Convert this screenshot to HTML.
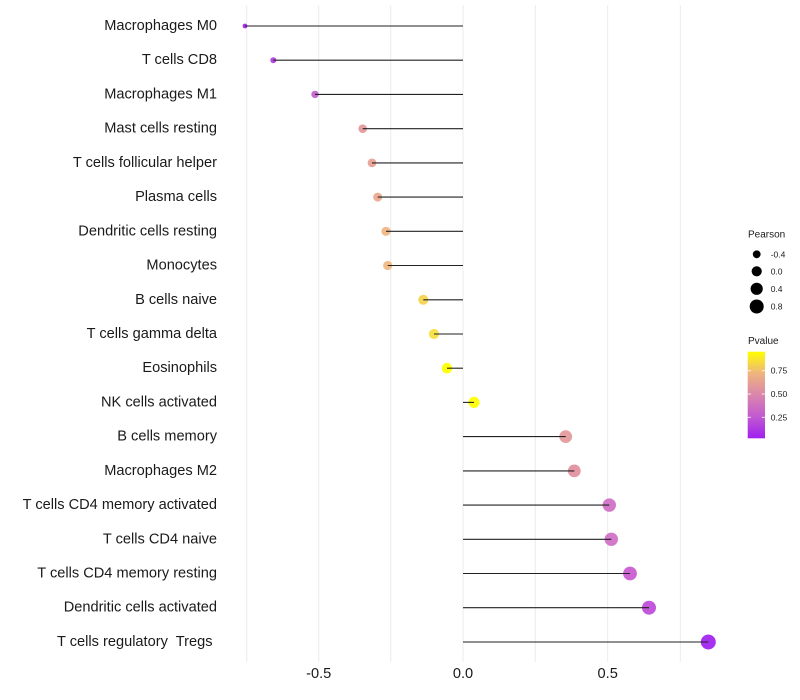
<!DOCTYPE html>
<html><head><meta charset="utf-8"><style>
html,body{margin:0;padding:0;background:#fff;}
svg{display:block;font-family:"Liberation Sans",Arial,sans-serif;}
</style></head><body>
<svg width="800" height="700" viewBox="0 0 800 700" xmlns="http://www.w3.org/2000/svg">
<rect width="800" height="700" fill="#fff"/>
<g stroke="#ebebeb" stroke-width="1">
<line x1="246.7" y1="5" x2="246.7" y2="662"/>
<line x1="318.7" y1="5" x2="318.7" y2="662"/>
<line x1="390.7" y1="5" x2="390.7" y2="662"/>
<line x1="463" y1="5" x2="463" y2="662"/>
<line x1="535.3" y1="5" x2="535.3" y2="662"/>
<line x1="607.7" y1="5" x2="607.7" y2="662"/>
<line x1="680.3" y1="5" x2="680.3" y2="662"/>
</g>
<g opacity="0.92">
<circle cx="245" cy="26" r="2.4" fill="#a020f0"/>
<circle cx="273.3" cy="60.2" r="3" fill="#b03ce0"/>
<circle cx="315" cy="94.4" r="3.7" fill="#c460d0"/>
<circle cx="362.7" cy="128.7" r="4.3" fill="#e39a9a"/>
<circle cx="372" cy="162.9" r="4.4" fill="#e8a094"/>
<circle cx="377.7" cy="197.1" r="4.5" fill="#eba88e"/>
<circle cx="386" cy="231.3" r="4.6" fill="#efb684"/>
<circle cx="387.7" cy="265.5" r="4.6" fill="#f0b882"/>
<circle cx="423.3" cy="299.8" r="5" fill="#f5d34a"/>
<circle cx="434" cy="334" r="5.1" fill="#f7e040"/>
<circle cx="447" cy="368.2" r="5.3" fill="#ffff00"/>
<circle cx="474" cy="402.4" r="5.6" fill="#ffff00"/>
<circle cx="565.7" cy="436.6" r="6.4" fill="#e39a9a"/>
<circle cx="574.3" cy="470.9" r="6.4" fill="#e0909e"/>
<circle cx="609.3" cy="505.1" r="6.7" fill="#d06ec6"/>
<circle cx="611.3" cy="539.3" r="6.7" fill="#d070c6"/>
<circle cx="630" cy="573.5" r="6.9" fill="#c85ad0"/>
<circle cx="649" cy="607.7" r="7" fill="#bd4cd8"/>
<circle cx="708.3" cy="642" r="7.5" fill="#a020f0"/>
</g>
<g stroke="#222" stroke-width="1.1">
<line x1="463" y1="26" x2="245" y2="26"/>
<line x1="463" y1="60.2" x2="273.3" y2="60.2"/>
<line x1="463" y1="94.4" x2="315" y2="94.4"/>
<line x1="463" y1="128.7" x2="362.7" y2="128.7"/>
<line x1="463" y1="162.9" x2="372" y2="162.9"/>
<line x1="463" y1="197.1" x2="377.7" y2="197.1"/>
<line x1="463" y1="231.3" x2="386" y2="231.3"/>
<line x1="463" y1="265.5" x2="387.7" y2="265.5"/>
<line x1="463" y1="299.8" x2="423.3" y2="299.8"/>
<line x1="463" y1="334" x2="434" y2="334"/>
<line x1="463" y1="368.2" x2="447" y2="368.2"/>
<line x1="463" y1="402.4" x2="474" y2="402.4"/>
<line x1="463" y1="436.6" x2="565.7" y2="436.6"/>
<line x1="463" y1="470.9" x2="574.3" y2="470.9"/>
<line x1="463" y1="505.1" x2="609.3" y2="505.1"/>
<line x1="463" y1="539.3" x2="611.3" y2="539.3"/>
<line x1="463" y1="573.5" x2="630" y2="573.5"/>
<line x1="463" y1="607.7" x2="649" y2="607.7"/>
<line x1="463" y1="642" x2="708.3" y2="642"/>
</g>
<g font-size="14.6" fill="#1a1a1a" text-anchor="end" dominant-baseline="central">
<text x="217" y="26">Macrophages M0</text>
<text x="217" y="60.2">T cells CD8</text>
<text x="217" y="94.4">Macrophages M1</text>
<text x="217" y="128.7">Mast cells resting</text>
<text x="217" y="162.9">T cells follicular helper</text>
<text x="217" y="197.1">Plasma cells</text>
<text x="217" y="231.3">Dendritic cells resting</text>
<text x="217" y="265.5">Monocytes</text>
<text x="217" y="299.8">B cells naive</text>
<text x="217" y="334">T cells gamma delta</text>
<text x="217" y="368.2">Eosinophils</text>
<text x="217" y="402.4">NK cells activated</text>
<text x="217" y="436.6">B cells memory</text>
<text x="217" y="470.9">Macrophages M2</text>
<text x="217" y="505.1">T cells CD4 memory activated</text>
<text x="217" y="539.3">T cells CD4 naive</text>
<text x="217" y="573.5">T cells CD4 memory resting</text>
<text x="217" y="607.7">Dendritic cells activated</text>
<text x="212.5" y="642" style="white-space:pre" xml:space="preserve">T cells regulatory  Tregs</text>
</g>
<g font-size="14.6" fill="#1a1a1a" text-anchor="middle" dominant-baseline="central">
<text x="318.7" y="674">-0.5</text>
<text x="463" y="674">0.0</text>
<text x="607.7" y="674">0.5</text>
</g>
<text x="748" y="235" font-size="10" fill="#1a1a1a" dominant-baseline="central">Pearson</text>
<circle cx="756.7" cy="254.3" r="3.9" fill="#000"/>
<circle cx="756.7" cy="271.3" r="5.1" fill="#000"/>
<circle cx="756.7" cy="288.8" r="6.1" fill="#000"/>
<circle cx="756.7" cy="306.5" r="7" fill="#000"/>
<g font-size="8.5" fill="#1a1a1a" dominant-baseline="central">
<text x="770.7" y="254.3">-0.4</text>
<text x="770.7" y="271.3">0.0</text>
<text x="770.7" y="288.8">0.4</text>
<text x="770.7" y="306.5">0.8</text>
</g>
<text x="748" y="341.5" font-size="10" fill="#1a1a1a" dominant-baseline="central">Pvalue</text>
<defs>
<linearGradient id="pg" x1="0" y1="1" x2="0" y2="0">
<stop offset="0" stop-color="#a020f0"/>
<stop offset="0.25" stop-color="#c25ad0"/>
<stop offset="0.5" stop-color="#da86ac"/>
<stop offset="0.75" stop-color="#eeb47e"/>
<stop offset="1" stop-color="#ffff00"/>
</linearGradient>
</defs>
<rect x="747.7" y="351.7" width="17.3" height="86.6" fill="url(#pg)"/>
<g stroke="#fff" stroke-width="1" opacity="0.8">
<line x1="747.7" y1="370.7" x2="751" y2="370.7"/><line x1="761.7" y1="370.7" x2="765" y2="370.7"/>
<line x1="747.7" y1="394" x2="751" y2="394"/><line x1="761.7" y1="394" x2="765" y2="394"/>
<line x1="747.7" y1="417.3" x2="751" y2="417.3"/><line x1="761.7" y1="417.3" x2="765" y2="417.3"/>
</g>
<g font-size="8.5" fill="#1a1a1a" dominant-baseline="central">
<text x="770.7" y="370.7">0.75</text>
<text x="770.7" y="394">0.50</text>
<text x="770.7" y="417.3">0.25</text>
</g>
</svg>
</body></html>
